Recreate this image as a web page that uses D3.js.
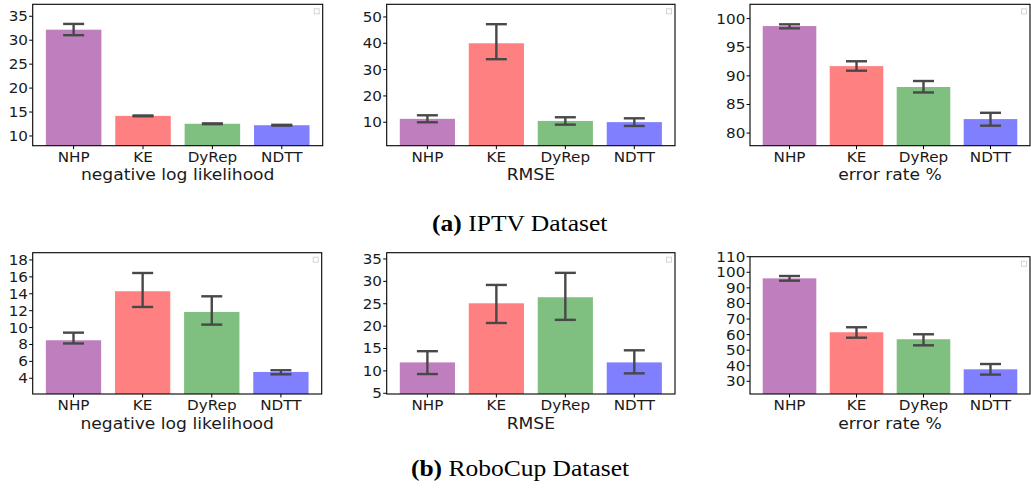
<!DOCTYPE html>
<html>
<head>
<meta charset="utf-8">
<script src="https://cdn.jsdelivr.net/npm/d3@7"></script>
<style>
  html, body { margin: 0; padding: 0; background: #fff; }
  svg { display: block; }
</style>
</head>
<body>
<svg id="fig" width="1031" height="489"></svg>
<script>
// Models compared in every panel
const categories = ["NHP", "KE", "DyRep", "NDTT"];
const barColors = ["#bf7fbf", "#ff8080", "#7fbf7f", "#8080ff"];

// IPTV dataset
const iptvNll = [32.2, 14.2, 12.55, 12.25];
const iptvNllLow = [31.05, 14.12, 12.47, 12.17];
const iptvNllHigh = [33.4, 14.28, 12.63, 12.33];

const iptvRmse = [11.3, 40.0, 10.5, 10.05];
const iptvRmseLow = [10.0, 33.95, 9.1, 8.6];
const iptvRmseHigh = [12.65, 47.25, 11.9, 11.5];

const iptvErr = [98.7, 91.7, 88.05, 82.45];
const iptvErrLow = [98.3, 90.9, 87.1, 81.3];
const iptvErrHigh = [99.0, 92.55, 89.1, 83.55];

// RoboCup dataset
const roboNll = [8.5, 14.3, 11.85, 4.75];
const roboNllLow = [8.12, 12.44, 10.35, 4.47];
const roboNllHigh = [9.4, 16.46, 13.7, 4.95];

const roboRmse = [11.9, 25.1, 26.45, 11.9];
const roboRmseLow = [9.3, 20.7, 21.4, 9.45];
const roboRmseHigh = [14.4, 29.2, 31.9, 14.6];

const roboErr = [96.1, 61.5, 57.0, 37.7];
const roboErrLow = [94.6, 58.0, 53.1, 34.3];
const roboErrHigh = [97.6, 64.7, 60.2, 41.1];

// Tick labels of each y axis
const iptvNllTicks = [10, 15, 20, 25, 30, 35];
const iptvRmseTicks = [10, 20, 30, 40, 50];
const iptvErrTicks = [80, 85, 90, 95, 100];
const roboNllTicks = [4, 6, 8, 10, 12, 14, 16, 18];
const roboRmseTicks = [5, 10, 15, 20, 25, 30, 35];
const roboErrTicks = [30, 40, 50, 60, 70, 80, 90, 100, 110];

const xLabels = ["negative log likelihood", "RMSE", "error rate %"];
const captions = [["(a)", " IPTV Dataset"], ["(b)", " RoboCup Dataset"]];

// Panel layout
const panels = [
  { vals: iptvNll, lo: iptvNllLow, hi: iptvNllHigh, ticks: iptvNllTicks, dom: [7.97, 37.5], label: xLabels[0], box: [32.7, 322.7, 4.3, 145.7] },
  { vals: iptvRmse, lo: iptvRmseLow, hi: iptvRmseHigh, ticks: iptvRmseTicks, dom: [1.1, 54.8], label: xLabels[1], box: [386.7, 675, 4.3, 145.7] },
  { vals: iptvErr, lo: iptvErrLow, hi: iptvErrHigh, ticks: iptvErrTicks, dom: [77.8, 102.5], label: xLabels[2], box: [750, 1030, 4.3, 145.7] },
  { vals: roboNll, lo: roboNllLow, hi: roboNllHigh, ticks: roboNllTicks, dom: [2.14, 18.86], label: xLabels[0], box: [32.7, 321.7, 252.7, 394] },
  { vals: roboRmse, lo: roboRmseLow, hi: roboRmseHigh, ticks: roboRmseTicks, dom: [4.84, 36.4], label: xLabels[1], box: [386.7, 675, 252.7, 394] },
  { vals: roboErr, lo: roboErrLow, hi: roboErrHigh, ticks: roboErrTicks, dom: [21.85, 110], label: xLabels[2], box: [750, 1030, 256.7, 394] }
];

const SX = 1.1;             // horizontal stretch of the figure's text
const tickFont = 13.8;
const labelFont = 15.6;
const sansFamily = "'DejaVu Sans', sans-serif";

const svg = d3.select("#fig");

function stretchedText(g, x, y, str, size, anchor) {
  return g.append("text")
    .attr("transform", `translate(${x},${y}) scale(${SX},1)`)
    .attr("text-anchor", anchor)
    .attr("font-family", sansFamily)
    .attr("font-size", size)
    .attr("fill", "#1a1a1a")
    .text(str);
}

panels.forEach(p => {
  const [x0, x1, y0, y1] = p.box;
  const g = svg.append("g");

  const x = d3.scaleLinear().domain([-0.59, categories.length - 1 + 0.59]).range([x0, x1]);
  const y = d3.scaleLinear().domain(p.dom).range([y1, y0]);
  const bw = x(0.8) - x(0);

  // bars
  g.selectAll("rect.bar").data(p.vals).join("rect")
    .attr("class", "bar")
    .attr("x", (d, i) => x(i) - bw / 2)
    .attr("width", bw)
    .attr("y", d => y(d))
    .attr("height", d => y(p.dom[0]) - y(d))
    .attr("fill", (d, i) => barColors[i]);

  // error bars
  const capHalf = 10.5;
  const eg = g.append("g").attr("stroke", "#484848").attr("stroke-width", 2.4).attr("fill", "none");
  p.vals.forEach((v, i) => {
    const cx = x(i);
    eg.append("line").attr("x1", cx).attr("x2", cx).attr("y1", y(p.lo[i])).attr("y2", y(p.hi[i]));
    eg.append("line").attr("x1", cx - capHalf).attr("x2", cx + capHalf).attr("y1", y(p.lo[i])).attr("y2", y(p.lo[i]));
    eg.append("line").attr("x1", cx - capHalf).attr("x2", cx + capHalf).attr("y1", y(p.hi[i])).attr("y2", y(p.hi[i]));
  });

  // frame
  g.append("rect")
    .attr("x", x0).attr("y", y0)
    .attr("width", x1 - x0).attr("height", y1 - y0)
    .attr("fill", "none").attr("stroke", "#000").attr("stroke-width", 1.1);

  // empty legend box
  g.append("rect")
    .attr("x", x1 - 8.5).attr("y", y0 + 4.5)
    .attr("width", 5).attr("height", 5)
    .attr("fill", "#fff").attr("stroke", "#d4d4d4").attr("stroke-width", 1);

  // y ticks
  p.ticks.forEach(t => {
    const ty = y(t);
    g.append("line").attr("x1", x0 - 3.5).attr("x2", x0).attr("y1", ty).attr("y2", ty)
      .attr("stroke", "#000").attr("stroke-width", 1);
    stretchedText(g, x0 - 4.7, ty + tickFont * 0.36, String(t), tickFont, "end");
  });

  // x ticks and category labels
  categories.forEach((c, i) => {
    const cx = x(i);
    g.append("line").attr("x1", cx).attr("x2", cx).attr("y1", y1).attr("y2", y1 + 3.5)
      .attr("stroke", "#000").attr("stroke-width", 1);
    stretchedText(g, cx, y1 + 16, c, tickFont, "middle");
  });

  // axis title
  stretchedText(g, (x0 + x1) / 2, y1 + 34.5, p.label, labelFont, "middle");
});

// sub-figure captions
const capPos = [[519.7, 230.7], [520, 476]];
captions.forEach((c, i) => {
  const t = svg.append("text")
    .attr("transform", `translate(${capPos[i][0]},${capPos[i][1]}) scale(${SX},1)`)
    .attr("text-anchor", "middle")
    .attr("font-family", "'Liberation Serif', 'Times New Roman', serif")
    .attr("font-size", 23.2)
    .attr("fill", "#000");
  t.append("tspan").attr("font-weight", "bold").text(c[0]);
  t.append("tspan").text(c[1]);
});
</script>
</body>
</html>
